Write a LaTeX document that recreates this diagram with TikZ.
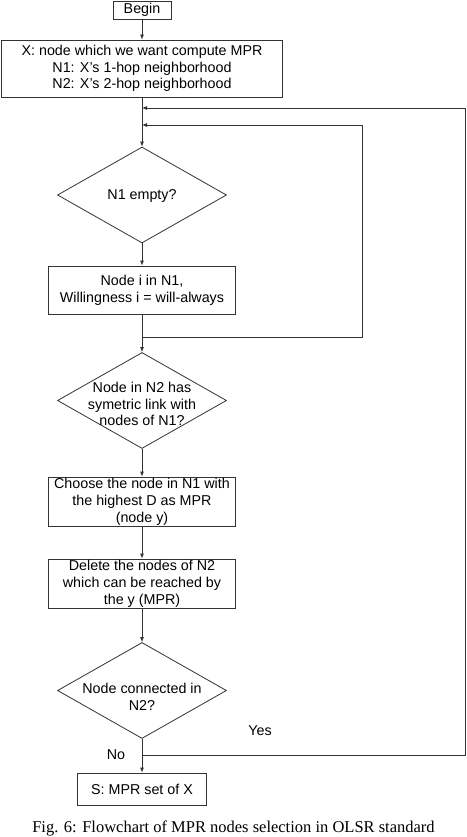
\documentclass[tikz,border=0pt]{standalone}
\usepackage{fontspec}
\setmainfont{Liberation Sans}
\newfontfamily\capfont{Liberation Serif}
\usetikzlibrary{shapes.geometric,arrows.meta}
\begin{document}
\begin{tikzpicture}[x=1pt,y=1pt,
  line/.style={draw=black!80,line width=0.8pt},
  arr/.style={line,-{Latex[length=5pt,width=4pt]}},
  box/.style={draw=black!80,line width=0.8pt,rectangle,inner sep=0pt,align=center,font=\fontsize{14.3}{16.8}\selectfont},
  dia/.style={draw=black!80,line width=0.8pt,diamond,inner sep=0pt,minimum width=169pt,minimum height=96pt},
  txt/.style={align=center,font=\fontsize{14.3}{16.8}\selectfont,inner sep=0pt}]
\useasboundingbox (0,0) rectangle (466,-837);
\node[box,minimum width=58pt,minimum height=18pt] (begin) at (142,-10) {Begin};
\node[box,minimum width=281pt,minimum height=57pt] (x) at (142,-68.5) {X: node which we want compute MPR\\N1: X’s 1-hop neighborhood\\N2: X’s 2-hop neighborhood};
\node[dia] (d1) at (142,-195) {};
\node[txt] (t1) at (142,-196) {N1 empty?};
\node[box,minimum width=187pt,minimum height=48pt] (b2) at (142,-290) {Node i in N1,\\Willingness i = will-always};
\node[dia] (d2) at (142,-400.5) {};
\node[txt] (t2) at (142,-404) {Node in N2 has\\symetric link with\\nodes of N1?};
\node[box,minimum width=187pt,minimum height=49pt] (b3) at (142,-501.5) {Choose the node in N1 with\\the highest D as MPR\\(node y)};
\node[box,minimum width=187pt,minimum height=49pt] (b4) at (142,-583.5) {Delete the nodes of N2\\which can be reached by\\the y (MPR)};
\node[dia] (d3) at (142,-690.5) {};
\node[txt] (t3) at (142,-697) {Node connected in\\N2?};
\node[box,minimum width=129pt,minimum height=32pt] (s) at (142,-789) {S: MPR set of X};
\node[txt] (yes) at (260,-731) {Yes};
\node[txt] (no) at (116,-755) {No};
\node[font=\capfont\fontsize{16.5}{19}\selectfont,inner sep=0pt] (cap) at (233.5,-828) {Fig. 6: Flowchart of MPR nodes selection in OLSR standard};
\coordinate (j1) at (142,-108);
\coordinate (j2) at (142,-125);
\coordinate (bj) at (142,-337);
\coordinate (r1) at (362,-337);
\coordinate (r1t) at (362,-125);
\coordinate (nj) at (142,-755);
\coordinate (r2) at (465,-755);
\coordinate (r2t) at (465,-108);
\draw[arr] (begin) -- (x);
\draw[arr] (x) -- (d1);
\draw[arr] (d1) -- (b2);
\draw[arr] (b2) -- (d2);
\draw[arr] (bj) -- (r1) -- (r1t) -- (j2);
\draw[arr] (d2) -- (b3);
\draw[arr] (b3) -- (b4);
\draw[arr] (b4) -- (d3);
\draw[arr] (d3) -- (s);
\draw[arr] (nj) -- (r2) -- (r2t) -- (j1);
\end{tikzpicture}
\end{document}
